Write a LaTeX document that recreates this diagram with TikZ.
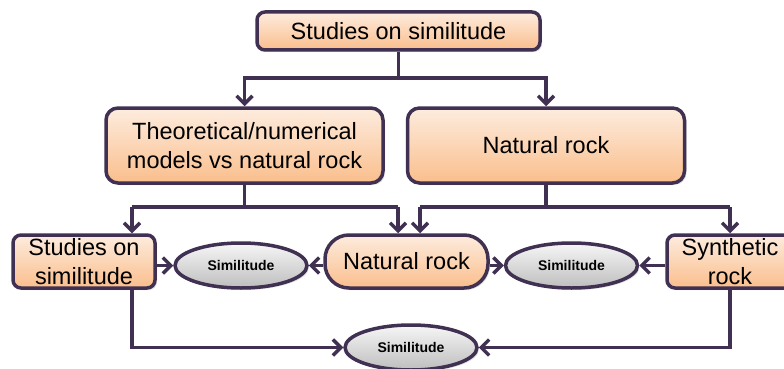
\documentclass[tikz,border=0pt]{standalone}
\usepackage{fontspec}
\setmainfont{Liberation Sans}
\usetikzlibrary{arrows.meta,shadows,shapes.geometric}

\definecolor{edgepurple}{RGB}{64,49,82}
\definecolor{peachtop}{RGB}{253,236,222}
\definecolor{peachbot}{RGB}{250,190,140}
\definecolor{greytop}{RGB}{246,246,246}
\definecolor{greybot}{RGB}{190,190,190}

\tikzset{
  box/.style={draw=edgepurple, line width=3.5pt, rounded corners=8pt,
    top color=peachtop, bottom color=peachbot, align=center, inner sep=0pt,
    font=\fontsize{23.5}{29}\selectfont,
    drop shadow={opacity=0.25, shadow xshift=2pt, shadow yshift=-2pt}},
  oval/.style={ellipse, draw=edgepurple, line width=3.5pt,
    top color=greytop, bottom color=greybot, inner sep=0pt,
    minimum width=132pt, minimum height=45pt,
    font=\fontsize{14}{16}\selectfont\bfseries,
    drop shadow={opacity=0.25, shadow xshift=2pt, shadow yshift=-2pt}},
  link/.style={draw=edgepurple, line width=3.5pt},
  arr/.style={link, -{Straight Barb[length=8pt,width=16pt,line width=3.5pt]}}
}

\begin{document}
\begin{tikzpicture}[x=1pt,y=-1pt]
\useasboundingbox (0,0) rectangle (784,369);

% upper levels
\node[box, minimum width=283pt, minimum height=38pt] (top) at (398.5,31) {Studies on similitude};
\node[box, rounded corners=12pt, minimum width=277pt, minimum height=75pt] (tn) at (244.5,145.5)
  {Theoretical/numerical\\models vs natural rock};
\node[box, rounded corners=12pt, minimum width=277pt, minimum height=75pt] (nr1) at (546,145.5)
  {Natural rock};

% lower level
\node[box, minimum width=142pt, minimum height=53pt] (ls) at (84,261.5) {Studies on\\similitude};
\node[box, rounded corners=24pt, minimum width=163pt, minimum height=53pt] (nr2) at (406.5,261.5) {Natural rock};
\node[box, minimum width=126pt, minimum height=53pt] (sr) at (730,261.5) {Synthetic\\rock};

\node[oval] (el1) at (241,265.5) {Similitude};
\node[oval] (el2) at (571.5,265.5) {Similitude};
\node[oval] (el3) at (411,347.5) {Similitude};

% bus coordinates
\coordinate (j1) at (398.5,78);
\coordinate (b1) at (132,207);
\coordinate (b2) at (398,207);
\coordinate (c1) at (420,207);
\coordinate (c2) at (730,207);

% first split
\draw[link] (top.south) -- (j1);
\draw[arr] (j1) -| (tn.north);
\draw[arr] (j1) -| (nr1.north);

% second split (left)
\draw[link] (tn.south) -- (tn.south |- b1);
\draw[link] (b1) -- (b2);
\draw[arr] (b1) -- (b1 |- ls.north);
\draw[arr] (b2) -- (b2 |- nr2.north);

% second split (right)
\draw[link] (nr1.south) -- (nr1.south |- c1);
\draw[link] (c1) -- (c2);
\draw[arr] (c1) -- (c1 |- nr2.north);
\draw[arr] (c2) -- (c2 |- sr.north);

% comparisons
\draw[arr] (ls.east |- el1) -- (el1.west);
\draw[arr] (nr2.west |- el1) -- (el1.east);
\draw[arr] (nr2.east |- el2) -- (el2.west);
\draw[arr] (sr.west |- el2) -- (el2.east);
\draw[arr] (b1 |- ls.south) |- (el3.west);
\draw[arr] (c2 |- sr.south) |- (el3.east);
\end{tikzpicture}
\end{document}
